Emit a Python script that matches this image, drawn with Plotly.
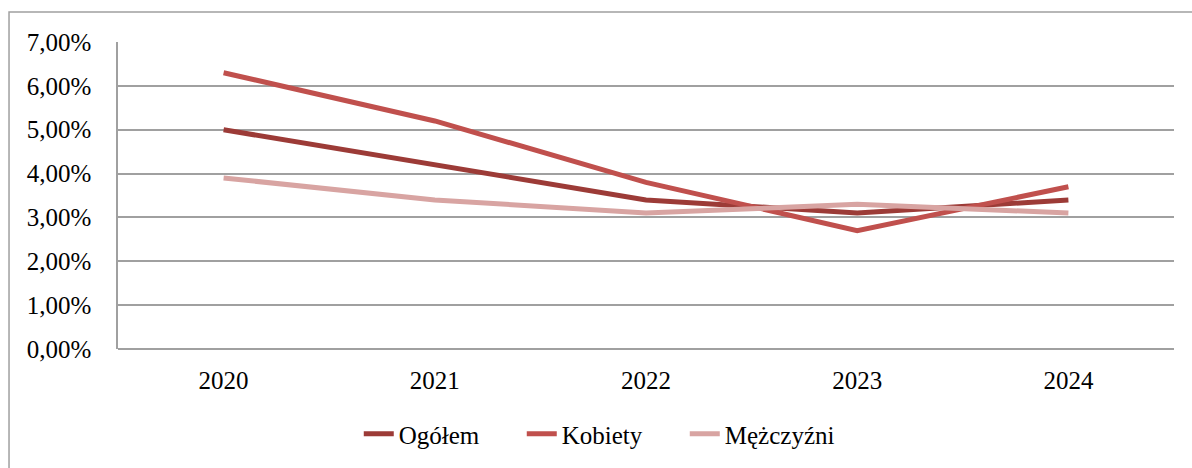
import plotly.graph_objects as go

years = ["2020", "2021", "2022", "2023", "2024"]
ogolem = [5.0, 4.2, 3.4, 3.1, 3.4]
kobiety = [6.3, 5.2, 3.8, 2.7, 3.7]
mezczyzni = [3.9, 3.4, 3.1, 3.3, 3.1]
y_ticks = [0, 1, 2, 3, 4, 5, 6, 7]

series = [
    ("Ogółem", ogolem, "#9c3b37"),
    ("Kobiety", kobiety, "#c0504d"),
    ("Mężczyźni", mezczyzni, "#d8a4a2"),
]

fig = go.Figure()
for name, vals, color in series:
    fig.add_trace(go.Scatter(
        x=years, y=[v / 100 for v in vals], name=name, mode="lines",
        line=dict(color=color, width=5),
    ))

font = dict(family="Liberation Serif, Times New Roman, serif", size=25, color="#000000")

fig.update_layout(
    width=1192, height=468,
    margin=dict(l=118, r=18, t=42, b=119, autoexpand=False),
    paper_bgcolor="white", plot_bgcolor="white",
    separators=",.",
    font=font,
    showlegend=True,
    legend=dict(orientation="h", x=0.228, xanchor="left", y=-0.277, yanchor="middle",
                font=font, entrywidth=118, entrywidthmode="pixels", tracegroupgap=0),
    xaxis=dict(type="category", range=[-0.5, 4.5], showgrid=False, showline=False, zeroline=False,
               ticks="", ticklabelstandoff=14, tickfont=font, automargin=False),
    yaxis=dict(range=[0, 0.07], tickvals=[t / 100 for t in y_ticks], tickformat=".2%",
               showgrid=True, gridcolor="#a0a0a0", gridwidth=1.5,
               showline=True, linecolor="#a0a0a0", linewidth=1.5,
               zeroline=True, zerolinecolor="#a0a0a0", zerolinewidth=1.5,
               ticks="", ticklabelstandoff=20, tickfont=font, automargin=False),
    shapes=[dict(type="rect", xref="paper", yref="paper", x0=-0.1032, x1=1.2, y0=-0.6, y1=1.0977,
                 line=dict(color="#a0a0a0", width=1.5), fillcolor="rgba(0,0,0,0)", layer="below")],
)

fig.write_html("out.html", config={"displayModeBar": False},
               post_script="document.body.style.margin='0';document.body.style.overflow='hidden';")
